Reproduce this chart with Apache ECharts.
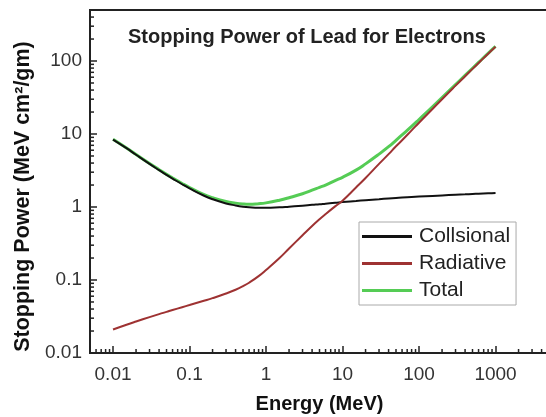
<!DOCTYPE html>
<html>
<head>
<meta charset="utf-8">
<script src="https://cdn.jsdelivr.net/npm/echarts@6/dist/echarts.min.js"></script>
<style>
  html, body { margin: 0; padding: 0; background: #fff; }
  #chart { width: 546px; height: 417px; }
</style>
</head>
<body>
<div id="chart"></div>
<script>
// 数据（从图中读取，单位 MeV / MeV cm²/g）
const energies = [0.01, 0.015, 0.02, 0.03, 0.04, 0.05, 0.06, 0.08, 0.1, 0.15, 0.2, 0.3, 0.4, 0.5, 0.6, 0.8,
  1, 1.5, 2, 3, 4, 5, 6, 8, 10, 15, 20, 30, 40, 50, 60, 80, 100, 150, 200, 300, 400, 500, 600, 800, 1000];
const collisional = [8.4, 6.4, 5.2, 3.9, 3.2, 2.75, 2.45, 2.05, 1.8, 1.45, 1.28, 1.12, 1.05, 1.01, 0.99, 0.975,
  0.975, 0.99, 1.01, 1.04, 1.07, 1.09, 1.11, 1.14, 1.17, 1.21, 1.24, 1.28, 1.31, 1.33, 1.35, 1.37, 1.39, 1.42,
  1.44, 1.47, 1.49, 1.51, 1.52, 1.54, 1.56];
const radiative = [0.021, 0.0244, 0.027, 0.031, 0.0341, 0.0366, 0.0388, 0.0424, 0.0454, 0.0515, 0.0564, 0.0653,
  0.0736, 0.0823, 0.0918, 0.113, 0.137, 0.2, 0.27, 0.41, 0.55, 0.68, 0.8, 1.02, 1.22, 1.85, 2.5, 3.9, 5.3, 6.8,
  8.2, 11.2, 14.3, 22, 30, 46, 62, 78, 94, 126, 157];
const total = [8.5, 6.45, 5.25, 3.95, 3.25, 2.8, 2.5, 2.1, 1.85, 1.5, 1.34, 1.19, 1.13, 1.1, 1.09, 1.11,
  1.14, 1.24, 1.34, 1.52, 1.7, 1.86, 2.0, 2.3, 2.55, 3.2, 3.9, 5.3, 6.7, 8.2, 9.7, 12.7, 15.8, 23.6, 31.6,
  47.6, 63.6, 79.6, 95.6, 127.6, 158.5];

const seriesNames = ["Collsional", "Radiative", "Total"];
const seriesColors = ["#111111", "#9e3232", "#55cc55"];
const xTickLabels = ["0.01", "0.1", "1", "10", "100", "1000"];
const yTickLabels = ["0.01", "0.1", "1", "10", "100"];

const X_MIN = 0.005, X_MAX = 5000;
const Y_MIN = 0.01, Y_MAX = 500;

const FONT = "'Liberation Sans', Arial, sans-serif";

// 只在整十次幂处显示刻度文字
function tickFormatter(labels) {
  return v => {
    const hit = labels.find(s => Math.abs(Math.log10(Number(s)) - Math.log10(v)) < 1e-6);
    return hit || "";
  };
}

// 次刻度：每个十进位中的 2..9
function minorTickValues(lo, hi) {
  const out = [];
  for (let d = Math.floor(Math.log10(lo)); d <= Math.ceil(Math.log10(hi)); d++) {
    for (let k = 2; k <= 9; k++) {
      const v = k * Math.pow(10, d);
      if (v > lo && v < hi) out.push(v);
    }
  }
  return out;
}

function pairs(ys) {
  return energies.map((e, i) => [e, ys[i]]);
}

const chart = echarts.init(document.getElementById("chart"));

const option = {
  animation: false,
  backgroundColor: "#fff",
  title: {
    text: "Stopping Power of Lead for Electrons",
    left: 128,
    top: 27,
    padding: 0,
    textStyle: { fontFamily: FONT, fontSize: 20, fontWeight: "bold", color: "#222" }
  },
  grid: {
    left: 90, right: -3, top: 10, bottom: 64,
    show: true, borderColor: "#222", borderWidth: 2,
    outerBoundsMode: "none"
  },
  legend: {
    data: seriesNames.map((n, i) => ({ name: n, icon: "rect", itemStyle: { color: seriesColors[i] } })),
    orient: "vertical",
    left: 359,
    top: 222,
    padding: [4, 6, 4, 3],
    itemWidth: 50,
    itemHeight: 3,
    itemGap: 6,
    backgroundColor: "#fff",
    borderColor: "#aaa",
    borderWidth: 1,
    borderRadius: 0,
    textStyle: { fontFamily: FONT, fontSize: 21, lineHeight: 21, color: "#222", padding: [0, 0, 0, 2] }
  },
  xAxis: {
    type: "log",
    min: X_MIN,
    max: X_MAX,
    name: "Energy (MeV)",
    nameLocation: "middle",
    nameGap: 41,
    nameTextStyle: { fontFamily: FONT, fontSize: 20, fontWeight: "bold", color: "#111" },
    axisLine: { show: true, lineStyle: { color: "#222", width: 2 } },
    axisTick: { show: true, inside: true, length: 7, lineStyle: { color: "#222", width: 1.5 } },
    splitLine: { show: false },
    axisLabel: {
      fontFamily: FONT, fontSize: 19, color: "#333", margin: 12,
      formatter: tickFormatter(xTickLabels)
    }
  },
  yAxis: {
    type: "log",
    min: Y_MIN,
    max: Y_MAX,
    name: "Stopping Power (MeV cm²/gm)",
    nameLocation: "middle",
    nameRotate: 90,
    nameGap: 55,
    nameTextStyle: {
      fontFamily: FONT, fontSize: 21.5, fontWeight: "bold", color: "#111",
      padding: [0, 30, 0, 0]
    },
    axisLine: { show: true, lineStyle: { color: "#222", width: 2 } },
    axisTick: { show: true, inside: true, length: 7, lineStyle: { color: "#222", width: 1.5 } },
    splitLine: { show: false },
    axisLabel: {
      fontFamily: FONT, fontSize: 19, color: "#333", margin: 8,
      formatter: tickFormatter(yTickLabels)
    }
  },
  series: [
    {
      name: "Collsional", type: "line", data: pairs(collisional),
      showSymbol: false, symbol: "none", smooth: true, z: 4,
      lineStyle: { color: seriesColors[0], width: 2 }, itemStyle: { color: seriesColors[0] }
    },
    {
      name: "Radiative", type: "line", data: pairs(radiative),
      showSymbol: false, symbol: "none", smooth: true, z: 4,
      lineStyle: { color: seriesColors[1], width: 2 }, itemStyle: { color: seriesColors[1] }
    },
    {
      name: "Total", type: "line", data: pairs(total),
      showSymbol: false, symbol: "none", smooth: true, z: 3,
      lineStyle: { color: seriesColors[2], width: 3 }, itemStyle: { color: seriesColors[2] }
    },
    {
      // x 轴次刻度
      type: "custom", silent: true, z: 5,
      data: minorTickValues(X_MIN, X_MAX).map(v => [v, Y_MIN]),
      renderItem: (params, api) => {
        const p = api.coord([api.value(0), api.value(1)]);
        return { type: "line", shape: { x1: p[0], y1: p[1], x2: p[0], y2: p[1] - 4 },
          style: { stroke: "#222", lineWidth: 1.5 } };
      }
    },
    {
      // y 轴次刻度
      type: "custom", silent: true, z: 5,
      data: minorTickValues(Y_MIN, Y_MAX).map(v => [X_MIN, v]),
      renderItem: (params, api) => {
        const p = api.coord([api.value(0), api.value(1)]);
        return { type: "line", shape: { x1: p[0], y1: p[1], x2: p[0] + 4, y2: p[1] },
          style: { stroke: "#222", lineWidth: 1.5 } };
      }
    }
  ]
};

chart.setOption(option);
</script>
</body>
</html>
